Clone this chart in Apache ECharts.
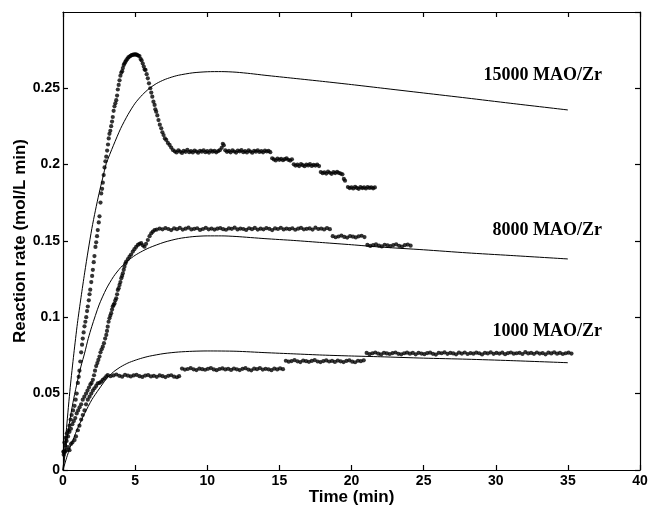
<!DOCTYPE html>
<html>
<head>
<meta charset="utf-8">
<script src="https://cdn.jsdelivr.net/npm/echarts@6/dist/echarts.min.js"></script>
<style>html,body{margin:0;padding:0;background:#fff}#c{width:654px;height:510px}</style>
</head>
<body>
<div id="c"></div>
<script>
// ---- data ----
const xTicks = [0, 5, 10, 15, 20, 25, 30, 35, 40];
const yTickLabels = ['0', '0.05', '0.1', '0.15', '0.2', '0.25'];
const seriesNames = ['15000 MAO/Zr', '8000 MAO/Zr', '1000 MAO/Zr'];

// measured reaction rate [time (min), rate (mol/L min)]
const obs15000 = [
[0.03,0.012],[0.1,0.018],[0.18,0.021],[0.27,0.024],[0.36,0.026],[0.45,0.029],[0.53,0.033],[0.6,0.036],[0.7,0.039],[0.8,0.042],[0.88,0.046],[0.95,0.050],[1.03,0.057],[1.09,0.061],[1.14,0.065],[1.2,0.071],[1.26,0.077],[1.32,0.082],[1.37,0.086],[1.43,0.090],[1.49,0.094],[1.55,0.097],[1.61,0.100],[1.67,0.104],[1.72,0.107],[1.79,0.111],[1.84,0.115],[1.89,0.118],[1.96,0.123],[2.02,0.127],[2.07,0.131],[2.13,0.136],[2.18,0.140],[2.25,0.146],[2.3,0.149],[2.36,0.153],[2.41,0.157],[2.48,0.162],[2.53,0.166],[2.6,0.175],[2.65,0.181],[2.71,0.184],[2.76,0.188],[2.82,0.193],[2.88,0.198],[2.94,0.202],[3.0,0.205],[3.06,0.209],[3.12,0.213],[3.17,0.217],[3.22,0.220],[3.28,0.222],[3.34,0.225],[3.4,0.228],[3.45,0.231],[3.51,0.235],[3.57,0.238],[3.63,0.240],[3.69,0.242],[3.75,0.245],[3.8,0.249],[3.86,0.252],[3.92,0.255],[3.98,0.258],[4.04,0.260],[4.1,0.261],[4.15,0.263],[4.21,0.265],[4.26,0.266],[4.32,0.267],[4.38,0.268],[4.46,0.269],[4.53,0.270],[4.61,0.2705],[4.69,0.271],[4.76,0.2715],[4.84,0.2716],[4.92,0.272],[5.0,0.2718],[5.07,0.272],[5.15,0.2715],[5.22,0.2712],[5.3,0.2709],[5.38,0.269],[5.45,0.268],[5.53,0.266],[5.6,0.264],[5.66,0.262],[5.72,0.2618],[5.8,0.259],[5.88,0.2563],[5.96,0.253],[6.05,0.2498],[6.12,0.247],[6.19,0.2443],[6.27,0.241],[6.35,0.2389],[6.4,0.236],[6.46,0.2345],[6.54,0.232],[6.62,0.229],[6.71,0.226],[6.81,0.2236],[6.89,0.221],[6.97,0.2192],[7.06,0.217],[7.16,0.216],[7.27,0.214],[7.39,0.2127],[7.5,0.211],[7.62,0.2094],
[7.75,0.2085],[7.87,0.2078],[8.0,0.2092],[8.12,0.2083],[8.25,0.2075],[8.37,0.2088],[8.5,0.2082],[8.62,0.2095],[8.75,0.2080],[8.87,0.2087],[9.0,0.2078],[9.12,0.2090],[9.25,0.2084],[9.37,0.2076],[9.5,0.2089],[9.62,0.2083],[9.75,0.2092],[9.87,0.2080],[10.0,0.2086],[10.12,0.2077],[10.25,0.2090],[10.37,0.2083],[10.5,0.2088],[10.62,0.2079],[10.75,0.2086],[10.87,0.2093],[11.0,0.2108],[11.08,0.2135],[11.15,0.2125],[11.25,0.2092],
[11.37,0.2082],[11.5,0.2088],[11.62,0.2079],[11.75,0.2091],[11.87,0.2084],[12.0,0.2077],[12.12,0.2090],[12.25,0.2085],[12.37,0.2093],[12.5,0.2080],[12.62,0.2087],[12.75,0.2078],[12.87,0.2091],[13.0,0.2084],[13.12,0.2076],[13.25,0.2089],[13.37,0.2083],[13.5,0.2092],[13.62,0.2081],[13.75,0.2087],[13.87,0.2079],[14.0,0.2090],[14.12,0.2084],[14.25,0.2088],[14.37,0.2080],
[14.5,0.2040],[14.62,0.2032],[14.75,0.2026],[14.87,0.2038],[15.0,0.2030],[15.12,0.2036],[15.25,0.2027],[15.37,0.2034],[15.5,0.2039],[15.62,0.2030],[15.75,0.2025],[15.87,0.2033],
[16.0,0.2000],[16.12,0.1992],[16.25,0.1998],[16.37,0.1989],[16.5,0.2002],[16.62,0.1995],[16.75,0.1988],[16.87,0.1999],[17.0,0.1993],[17.12,0.2001],[17.25,0.1990],[17.37,0.1997],[17.5,0.1992],[17.62,0.1999],[17.75,0.1989],
[17.87,0.1950],[18.0,0.1942],[18.12,0.1948],[18.25,0.1940],[18.37,0.1952],[18.5,0.1945],[18.62,0.1938],[18.75,0.1949],[18.87,0.1943],[19.0,0.1951],[19.12,0.1944],[19.25,0.1940],[19.37,0.1935],
[19.47,0.1905],[19.55,0.1893],
[19.75,0.1852],[19.87,0.1845],[20.0,0.1850],[20.12,0.1842],[20.25,0.1853],[20.37,0.1846],[20.5,0.1840],[20.62,0.1851],[20.75,0.1845],[20.87,0.1849],[21.0,0.1842],[21.12,0.1852],[21.25,0.1846],[21.37,0.1850],[21.5,0.1843],[21.62,0.1849]
];

const obs8000 = [
[0.05,0.012],[0.15,0.016],[0.25,0.019],[0.35,0.022],[0.45,0.025],[0.55,0.027],[0.65,0.030],[0.75,0.032],[0.85,0.034],[0.95,0.037],[1.05,0.039],[1.15,0.041],[1.26,0.043],[1.37,0.046],[1.48,0.048],[1.6,0.050],[1.7,0.052],[1.8,0.054],[1.9,0.056],[1.98,0.057],[2.07,0.059],[2.15,0.062],[2.22,0.065],[2.3,0.068],[2.38,0.070],[2.45,0.072],[2.53,0.0742],[2.6,0.077],[2.68,0.079],[2.76,0.0807],[2.84,0.083],[2.92,0.086],[3.0,0.0884],[3.05,0.091],[3.1,0.0938],[3.16,0.097],[3.22,0.0993],[3.28,0.101],[3.34,0.1026],[3.4,0.105],[3.45,0.107],[3.51,0.108],[3.57,0.109],[3.63,0.111],[3.69,0.1124],[3.75,0.115],[3.8,0.1178],[3.86,0.119],[3.92,0.1211],[3.98,0.123],[4.04,0.1255],[4.1,0.127],[4.15,0.1287],[4.21,0.131],[4.26,0.133],[4.32,0.135],[4.38,0.1363],[4.5,0.138],[4.61,0.1396],[4.72,0.141],[4.84,0.1429],[4.95,0.1445],[5.07,0.146],[5.19,0.1473],[5.3,0.148],[5.42,0.1484],[5.53,0.147],[5.65,0.1461],[5.76,0.148],[5.88,0.1505],[6.0,0.153],[6.12,0.1549],[6.23,0.156],[6.35,0.157],
[6.5,0.1573],[6.7,0.1580],[6.9,0.1575],[7.1,0.1583],[7.3,0.1577],[7.5,0.1570],[7.7,0.1581],[7.9,0.1576],[8.1,0.1584],[8.3,0.1573],[8.5,0.1579],[8.7,0.1586],[8.9,0.1574],[9.1,0.1578],[9.3,0.1582],[9.5,0.1571],[9.7,0.1577],[9.9,0.1585],[10.1,0.1575],[10.3,0.1580],[10.5,0.1573],[10.7,0.1579],[10.9,0.1583],[11.1,0.1576],[11.3,0.1572],[11.5,0.1581],[11.7,0.1578],[11.9,0.1586],[12.1,0.1574],[12.3,0.1580],[12.5,0.1577],[12.7,0.1571],[12.9,0.1582],[13.1,0.1576],[13.3,0.1584],[13.5,0.1573],[13.7,0.1579],[13.9,0.1575],[14.1,0.1583],[14.3,0.1578],[14.5,0.1570],[14.7,0.1581],[14.9,0.1577],[15.1,0.1585],[15.3,0.1574],[15.5,0.1580],[15.7,0.1576],[15.9,0.1582],[16.1,0.1572],[16.3,0.1579],[16.5,0.1584],[16.7,0.1575],[16.9,0.1578],[17.1,0.1581],[17.3,0.1573],[17.5,0.1586],[17.7,0.1577],[17.9,0.1580],[18.1,0.1574],[18.3,0.1583],[18.5,0.1576],
[18.7,0.1530],[18.9,0.1523],[19.1,0.1528],[19.3,0.1534],[19.5,0.1525],[19.7,0.1521],[19.9,0.1531],[20.1,0.1527],[20.3,0.1522],[20.5,0.1529],[20.7,0.1533],[20.9,0.1524],
[21.1,0.1473],[21.3,0.1466],[21.5,0.1471],[21.7,0.1476],[21.9,0.1468],[22.1,0.1463],[22.3,0.1474],[22.5,0.1470],[22.7,0.1465],[22.9,0.1472],[23.1,0.1477],[23.3,0.1467],[23.5,0.1462],[23.7,0.1471],[23.9,0.1475],[24.1,0.1468]
];

const obs1000 = [
[0.05,0.010],[0.15,0.012],[0.25,0.013],[0.35,0.015],[0.45,0.013],[0.55,0.017],[0.65,0.018],[0.8,0.0196],[0.9,0.022],[1.03,0.026],[1.14,0.029],[1.26,0.033],[1.37,0.036],[1.49,0.039],[1.6,0.043],[1.72,0.046],[1.84,0.048],[1.96,0.050],[2.07,0.052],[2.18,0.0535],[2.3,0.055],[2.41,0.0567],[2.53,0.057],[2.65,0.0578],[2.76,0.059],[2.88,0.060],[3.0,0.0612],
[3.1,0.0621],[3.3,0.0614],[3.5,0.0619],[3.7,0.0625],[3.9,0.0616],[4.1,0.0611],[4.3,0.0622],[4.5,0.0617],[4.7,0.0612],[4.9,0.0619],[5.1,0.0623],[5.3,0.0614],[5.5,0.0609],[5.7,0.0618],[5.9,0.0621],[6.1,0.0612],[6.3,0.0616],[6.5,0.0610],[6.7,0.0619],[6.9,0.0614],[7.1,0.0608],[7.3,0.0616],[7.5,0.0620],[7.7,0.0611],[7.9,0.0607],[8.05,0.0614],
[8.25,0.0664],[8.45,0.0657],[8.65,0.0661],[8.85,0.0667],[9.05,0.0659],[9.25,0.0654],[9.45,0.0663],[9.65,0.0660],[9.85,0.0656],[10.05,0.0662],[10.25,0.0667],[10.45,0.0658],[10.65,0.0653],[10.85,0.0661],[11.05,0.0665],[11.25,0.0658],[11.45,0.0662],[11.65,0.0655],[11.85,0.0664],[12.05,0.0659],[12.25,0.0654],[12.45,0.0662],[12.65,0.0666],[12.85,0.0657],[13.05,0.0652],[13.25,0.0663],[13.45,0.0660],[13.65,0.0667],[13.85,0.0657],[14.05,0.0662],[14.25,0.0659],[14.45,0.0653],[14.65,0.0664],[14.85,0.0658],[15.05,0.0665],[15.25,0.0660],
[15.45,0.0715],[15.65,0.0709],[15.85,0.0713],[16.05,0.0719],[16.25,0.0711],[16.45,0.0706],[16.65,0.0716],[16.85,0.0712],[17.05,0.0708],[17.25,0.0714],[17.45,0.0719],[17.65,0.0710],[17.85,0.0706],[18.05,0.0713],[18.25,0.0717],[18.45,0.0710],[18.65,0.0714],[18.85,0.0707],[19.05,0.0716],[19.25,0.0711],[19.45,0.0706],[19.65,0.0714],[19.85,0.0718],[20.05,0.0709],[20.25,0.0705],[20.45,0.0715],[20.65,0.0712],[20.85,0.0718],
[21.05,0.0766],[21.25,0.0758],[21.45,0.0764],[21.65,0.0769],[21.85,0.0761],[22.05,0.0756],[22.25,0.0767],[22.45,0.0763],[22.65,0.0759],[22.85,0.0765],[23.05,0.0769],[23.25,0.0760],[23.45,0.0757],[23.65,0.0764],[23.85,0.0768],[24.05,0.0761],[24.25,0.0766],[24.45,0.0757],[24.65,0.0767],[24.85,0.0762],[25.05,0.0758],[25.25,0.0765],[25.45,0.0768],[25.65,0.0760],[25.85,0.0755],[26.05,0.0767],[26.25,0.0764],[26.45,0.0770],[26.65,0.0760],[26.85,0.0766],[27.05,0.0763],[27.25,0.0757],[27.45,0.0768],[27.65,0.0762],[27.85,0.0769],[28.05,0.0759],[28.25,0.0765],[28.45,0.0761],[28.65,0.0768],[28.85,0.0764],[29.05,0.0756],[29.25,0.0767],[29.45,0.0763],[29.65,0.0770],[29.85,0.0760],[30.05,0.0766],[30.25,0.0762],[30.45,0.0768],[30.65,0.0758],[30.85,0.0765],[31.05,0.0769],[31.25,0.0761],[31.45,0.0764],[31.65,0.0767],[31.85,0.0759],[32.05,0.0771],[32.25,0.0763],[32.45,0.0766],[32.65,0.0760],[32.85,0.0769],[33.05,0.0762],[33.25,0.0765],[33.45,0.0757],[33.65,0.0768],[33.85,0.0763],[34.05,0.0770],[34.25,0.0761],[34.45,0.0766],[34.65,0.0759],[34.85,0.0764],[35.05,0.0768],[35.25,0.0762]
];

// model curves
const modelT15000 = [0,0.25,0.5,0.75,1,1.25,1.5,1.75,2,2.25,2.5,2.75,3,3.5,4,4.5,5,5.5,6,6.5,7,7.5,8,9,10,11,12,13,14,16,18,20,22,25,28,31,35];
const modelR15000 = [0,0.028,0.054,0.076,0.096,0.113,0.129,0.144,0.158,0.170,0.181,0.191,0.2005,0.2125,0.2235,0.2325,0.2400,0.2455,0.2498,0.2530,0.2553,0.2570,0.2583,0.2599,0.2606,0.2607,0.2603,0.2594,0.2583,0.2563,0.2543,0.2522,0.2500,0.2467,0.2434,0.2400,0.2356];
const modelT8000 = [0,0.25,0.5,0.75,1,1.25,1.5,1.75,2,2.5,3,3.5,4,4.5,5,5.5,6,7,8,9,10,11,12,14,16,18,20,22,25,28,31,35];
const modelR8000 = [0,0.018,0.034,0.047,0.058,0.068,0.0765,0.086,0.094,0.108,0.1185,0.1265,0.1325,0.1370,0.1405,0.1432,0.1455,0.1490,0.1514,0.1527,0.1532,0.1532,0.1528,0.1514,0.1502,0.1488,0.1474,0.1459,0.1441,0.1421,0.1404,0.1381];
const modelT1000 = [0,0.25,0.5,0.75,1,1.5,2,2.5,3,3.5,4,4.5,5,5.5,6,7,8,9,10,12,14,16,18,20,22,25,28,31,35];
const modelR1000 = [0,0.008,0.015,0.021,0.027,0.037,0.046,0.053,0.0595,0.0642,0.0675,0.0700,0.0718,0.0733,0.0745,0.0762,0.0772,0.0777,0.0779,0.0777,0.0768,0.0760,0.0752,0.0746,0.0741,0.0732,0.0725,0.0716,0.0702];

// ---- chart ----
const zip = (t, r) => t.map((v, i) => [v, r[i]]);
const font = '"Liberation Sans", Arial, sans-serif';
const chart = echarts.init(document.getElementById('c'), null, {renderer: 'canvas'});

const dotStyle = (data) => ({
  type: 'scatter', data: data, symbol: 'circle', symbolSize: 4.2,
  itemStyle: {color: '#000'}, silent: true, z: 3
});
const lineStyle = (data) => ({
  type: 'line', data: data, showSymbol: false, smooth: 0.25,
  lineStyle: {color: '#000', width: 1}, silent: true, z: 4
});

const axisCommon = {
  axisLine: {show: true, onZero: false, lineStyle: {color: '#000', width: 1.2}},
  axisTick: {show: true, inside: true, length: 5, lineStyle: {color: '#000', width: 1.2}},
  splitLine: {show: false}
};

chart.setOption({
  animation: false,
  backgroundColor: '#fff',
  grid: {left: 63, right: 14, top: 12, bottom: 40, containLabel: false, outerBoundsMode: 'none'},
  xAxis: [
    Object.assign({
      type: 'value', min: xTicks[0], max: xTicks[xTicks.length - 1], interval: 5, position: 'bottom',
      name: 'Time (min)', nameLocation: 'middle', nameGap: 27, nameMoveOverlap: false,
      nameTextStyle: {fontFamily: font, fontWeight: 'bold', fontSize: 17, color: '#000', verticalAlign: 'middle'},
      axisLabel: {fontFamily: font, fontWeight: 'bold', fontSize: 14, color: '#000', margin: 4}
    }, axisCommon),
    Object.assign({
      type: 'value', min: xTicks[0], max: xTicks[xTicks.length - 1], interval: 5, position: 'top',
      axisLabel: {show: false}
    }, axisCommon)
  ],
  yAxis: [
    Object.assign({
      type: 'value', min: 0, max: 0.2997, interval: 0.05, position: 'left',
      name: 'Reaction rate (mol/L min)', nameLocation: 'middle', nameGap: 43, nameMoveOverlap: false,
      nameTextStyle: {fontFamily: font, fontWeight: 'bold', fontSize: 17, color: '#000', verticalAlign: 'middle'},
      axisLabel: {
        fontFamily: font, fontWeight: 'bold', fontSize: 14, color: '#000', margin: 3,
        showMaxLabel: false,
        formatter: (v) => {
          const idx = Math.round(v / 0.05);
          return Math.abs(v - idx * 0.05) < 1e-6 && idx < yTickLabels.length ? yTickLabels[idx] : '';
        }
      }
    }, axisCommon),
    Object.assign({
      type: 'value', min: 0, max: 0.2997, interval: 0.05, position: 'right',
      axisLabel: {show: false}
    }, axisCommon)
  ],
  series: [
    Object.assign(dotStyle(obs15000), {name: seriesNames[0] + ' data'}),
    Object.assign(dotStyle(obs8000), {name: seriesNames[1] + ' data'}),
    Object.assign(dotStyle(obs1000), {name: seriesNames[2] + ' data'}),
    Object.assign(lineStyle(zip(modelT15000, modelR15000)), {name: seriesNames[0]}),
    Object.assign(lineStyle(zip(modelT8000, modelR8000)), {name: seriesNames[1]}),
    Object.assign(lineStyle(zip(modelT1000, modelR1000)), {name: seriesNames[2]})
  ],
  graphic: [
    {type: 'text', right: 52, top: 66, style: {text: seriesNames[0], font: 'bold 18px "Liberation Serif", "Times New Roman", serif', fill: '#000'}},
    {type: 'text', right: 52, top: 221, style: {text: seriesNames[1], font: 'bold 18px "Liberation Serif", "Times New Roman", serif', fill: '#000'}},
    {type: 'text', right: 52, top: 322, style: {text: seriesNames[2], font: 'bold 18px "Liberation Serif", "Times New Roman", serif', fill: '#000'}}
  ]
});
</script>
</body>
</html>
